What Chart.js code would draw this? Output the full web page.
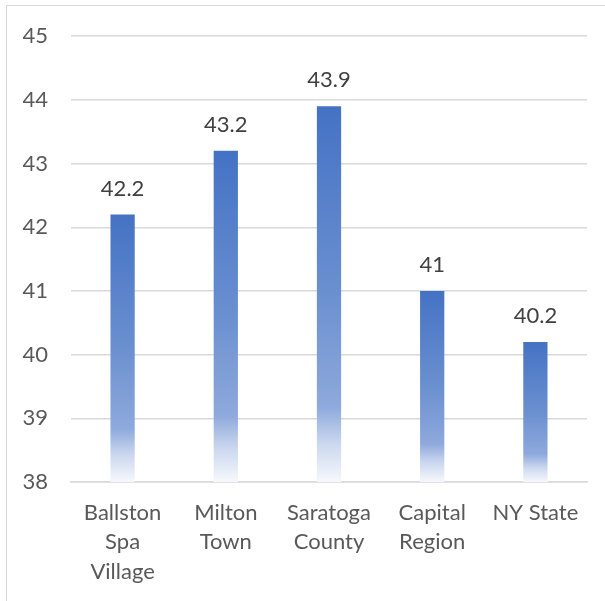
<!DOCTYPE html>
<html>
<head>
<meta charset="utf-8">
<script src="https://cdn.jsdelivr.net/npm/chart.js@4/dist/chart.umd.min.js"></script>
<style>
  body { margin: 0; background: #fff; }
  #wrap { position: relative; width: 605px; height: 601px; }
  #frame { position: absolute; left: 6px; top: 5px; width: 620px; height: 620px; border: 1px solid #d9d9d9; box-sizing: border-box; }
  canvas { position: absolute; left: 0; top: 0; }
</style>
</head>
<body>
<div id="wrap">
  <div id="frame"></div>
  <canvas id="chart" width="605" height="601"></canvas>
</div>
<script>
var places = [['Ballston', 'Spa', 'Village'], ['Milton', 'Town'], ['Saratoga', 'County'], ['Capital', 'Region'], 'NY State'];
var medianAge = [42.2, 43.2, 43.9, 41, 40.2];
var yMin = 38;
var yMax = 45;

// each bar fades from solid blue at the top to almost white at the base
function barFill(context) {
    var chart = context.chart;
    if (!chart.chartArea || context.type !== 'data') return '#4472C4';
    var y = chart.scales.y;
    var top = y.getPixelForValue(context.raw);
    var bottom = y.getPixelForValue(yMin);
    var g = chart.ctx.createLinearGradient(0, top, 0, bottom);
    g.addColorStop(0, '#4472C4');
    g.addColorStop(0.5, '#6b90d0');
    g.addColorStop(0.8, '#8ea9dc');
    g.addColorStop(0.9, '#ccd8ef');
    g.addColorStop(1, '#f6f8fc');
    return g;
}

var valueLabels = {
    id: 'valueLabels',
    afterDatasetsDraw: function(chart) {
        var ctx = chart.ctx;
        var meta = chart.getDatasetMeta(0);
        ctx.save();
        ctx.fillStyle = '#404040';
        ctx.font = '22px Lato';
        ctx.textAlign = 'center';
        ctx.textBaseline = 'middle';
        meta.data.forEach(function(bar, i) {
            ctx.fillText(String(medianAge[i]), bar.x, bar.y - 26);
        });
        ctx.restore();
    }
};

function drawChart() {
    var ctx = document.getElementById('chart');
    new Chart(ctx, {
        type: 'bar',
        data: {
            labels: places,
            datasets: [{
                data: medianAge,
                backgroundColor: barFill,
                barPercentage: 0.235,
                categoryPercentage: 1
            }]
        },
        options: {
            responsive: false,
            animation: false,
            layout: { padding: { top: 31, right: 18, left: 0, bottom: 0 } },
            plugins: {
                legend: { display: false },
                tooltip: { enabled: false }
            },
            scales: {
                x: {
                    grid: { display: false, drawTicks: false },
                    border: { color: '#d9d9d9', width: 1.5 },
                    ticks: {
                        color: '#595959',
                        font: { family: 'Lato', size: 22, lineHeight: 1.34 },
                        padding: 16,
                        maxRotation: 0
                    },
                    afterFit: function(scale) { scale.height = 119; }
                },
                y: {
                    min: yMin,
                    max: yMax,
                    grid: { color: '#d9d9d9', lineWidth: 1.5, drawTicks: false },
                    border: { display: false },
                    ticks: {
                        stepSize: 1,
                        color: '#595959',
                        font: { family: 'Lato', size: 22 },
                        padding: 23
                    },
                    afterFit: function(scale) { scale.width = 71; }
                }
            }
        },
        plugins: [valueLabels]
    });
}

drawChart();
</script>
</body>
</html>
